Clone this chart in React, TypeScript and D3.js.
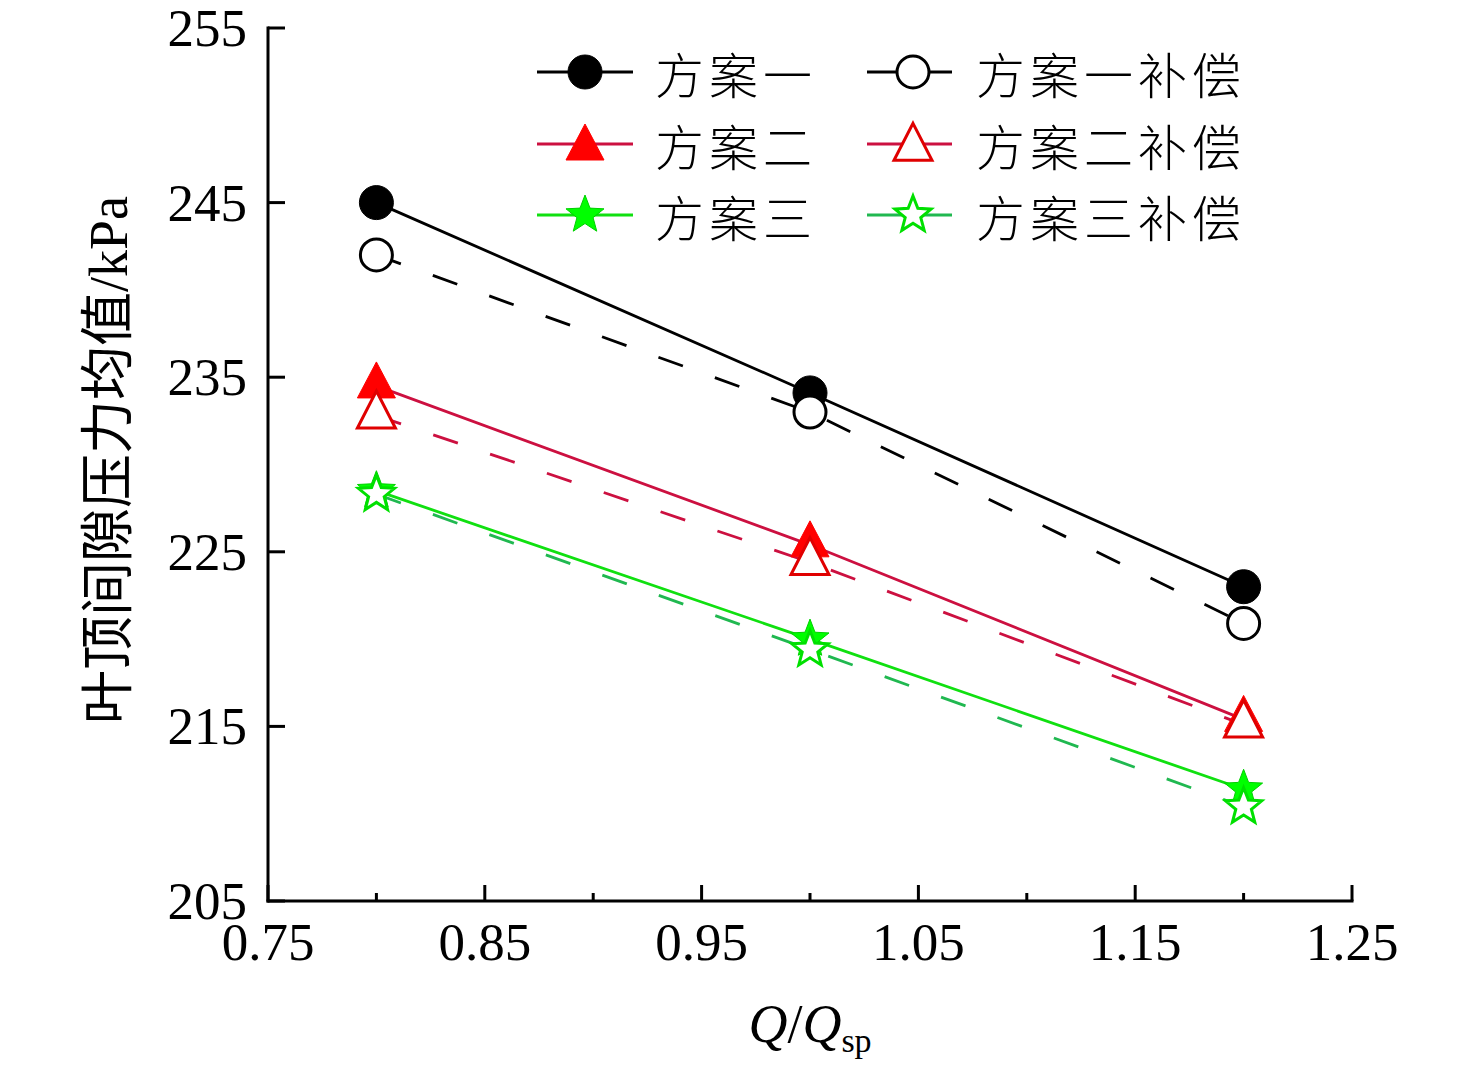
import React from "react";
import * as d3 from "d3";

const flowRatios = [0.8, 1.0, 1.2];
const plan1 = [245, 234.1, 223];
const plan1Comp = [242, 233, 220.9];
const plan2 = [234.5, 225.4, 215.4];
const plan2Comp = [232.8, 224.4, 215.1];
const plan3 = [228.5, 220.0, 211.4];
const plan3Comp = [228.3, 219.4, 210.4];

const seriesNames = ["方案一", "方案一补偿", "方案二", "方案二补偿", "方案三", "方案三补偿"];
const xTicks = [0.75, 0.85, 0.95, 1.05, 1.15, 1.25];
const xMinorTicks = [0.8, 0.9, 1.0, 1.1, 1.2];
const yTicks = [205, 215, 225, 235, 245, 255];
const yLabel = "叶顶间隙压力均值/kPa";

const W = 1476;
const H = 1068;
const x = d3.scaleLinear().domain([0.75, 1.25]).range([268, 1352]);
const y = d3.scaleLinear().domain([205, 255]).range([901, 28]);

type Marker = "circle" | "triangle" | "star";
interface Series {
  name: string;
  values: number[];
  color: string;
  dashed: boolean;
  marker: Marker;
  filled: boolean;
  fill: string;
  mstroke: string;
}

const series: Series[] = [
  { name: seriesNames[0], values: plan1, color: "#000000", dashed: false, marker: "circle", filled: true, fill: "#000000", mstroke: "#000000" },
  { name: seriesNames[1], values: plan1Comp, color: "#000000", dashed: true, marker: "circle", filled: false, fill: "#ffffff", mstroke: "#000000" },
  { name: seriesNames[2], values: plan2, color: "#cc1040", dashed: false, marker: "triangle", filled: true, fill: "#ff0000", mstroke: "#ff0000" },
  { name: seriesNames[3], values: plan2Comp, color: "#cc1040", dashed: true, marker: "triangle", filled: false, fill: "#ffffff", mstroke: "#e00000" },
  { name: seriesNames[4], values: plan3, color: "#10e010", dashed: false, marker: "star", filled: true, fill: "#00ff00", mstroke: "#00d000" },
  { name: seriesNames[5], values: plan3Comp, color: "#20b850", dashed: true, marker: "star", filled: false, fill: "#ffffff", mstroke: "#00e000" },
];

function starPath(R: number, r: number): string {
  const pts: string[] = [];
  for (let i = 0; i < 10; i++) {
    const a = -Math.PI / 2 + (i * Math.PI) / 5;
    const rad = i % 2 === 0 ? R : r;
    pts.push(`${(rad * Math.cos(a)).toFixed(2)},${(rad * Math.sin(a)).toFixed(2)}`);
  }
  return "M" + pts.join("L") + "Z";
}

function trianglePath(w: number, h: number): string {
  return `M0,${(-2 * h) / 3}L${w / 2},${h / 3}L${-w / 2},${h / 3}Z`;
}

function MarkerShape({ s, cx, cy }: { s: Series; cx: number; cy: number }) {
  const sw = s.filled ? 1 : 3;
  if (s.marker === "circle") {
    return <circle cx={cx} cy={cy} r={s.filled ? 17 : 16} fill={s.fill} stroke={s.mstroke} strokeWidth={sw} />;
  }
  if (s.marker === "triangle") {
    return (
      <path
        transform={`translate(${cx},${cy})`}
        d={s.filled ? trianglePath(38, 36) : trianglePath(38, 37)}
        fill={s.fill}
        stroke={s.mstroke}
        strokeWidth={sw}
        strokeLinejoin="miter"
      />
    );
  }
  return (
    <path
      transform={`translate(${cx},${cy})`}
      d={s.filled ? starPath(20, 8.5) : starPath(19, 8.2)}
      fill={s.fill}
      stroke={s.mstroke}
      strokeWidth={s.filled ? 1 : 3}
      strokeLinejoin="miter"
    />
  );
}

export default function App() {
  const line = d3
    .line<number>()
    .x((_, i) => x(flowRatios[i]))
    .y((d) => y(d));

  const serif = "'Liberation Serif', 'Times New Roman', serif";
  const mixed = "'Liberation Serif', 'Noto Sans CJK SC', serif";
  const cjk = "'Noto Sans CJK SC', sans-serif";

  const legendRows = [72, 144, 215];
  const legendCols = [
    { lx1: 537, lx2: 633, mx: 585, tx: 655 },
    { lx1: 867, lx2: 952, mx: 913, tx: 976 },
  ];

  return (
    <svg
      width={W}
      height={H}
      viewBox={`0 0 ${W} ${H}`}
      style={{ position: "absolute", left: 0, top: 0, background: "#ffffff" }}
    >
      <rect x={0} y={0} width={W} height={H} fill="#ffffff" />

      {series.map((s) => (
        <path
          key={"l" + s.name}
          d={line(s.values) || ""}
          fill="none"
          stroke={s.color}
          strokeWidth={2.8}
          strokeDasharray={s.dashed ? "26,34" : undefined}
        />
      ))}
      {[0, 2, 4, 1, 3, 5].map((k) => {
        const s = series[k];
        return s.values.map((v, i) => (
          <MarkerShape key={s.name + i} s={s} cx={x(flowRatios[i])} cy={y(v)} />
        ));
      })}

      <line x1={x(0.75)} x2={x(0.75)} y1={y(255) - 1.5} y2={y(205) + 1.5} stroke="#000" strokeWidth={3} />
      <line x1={x(0.75) - 1.5} x2={x(1.25) + 1.5} y1={y(205)} y2={y(205)} stroke="#000" strokeWidth={3} />
      {yTicks.map((t) => (
        <g key={"yt" + t}>
          <line x1={x(0.75)} x2={x(0.75) + 17} y1={y(t)} y2={y(t)} stroke="#000" strokeWidth={3} />
          <text
            x={247}
            y={y(t)}
            textAnchor="end"
            dominantBaseline="central"
            fontFamily={serif}
            fontSize={53}
            fill="#000"
          >
            {t}
          </text>
        </g>
      ))}
      {xTicks.map((t) => (
        <g key={"xt" + t}>
          <line x1={x(t)} x2={x(t)} y1={y(205)} y2={y(205) - 16} stroke="#000" strokeWidth={3} />
          <text x={x(t)} y={960} textAnchor="middle" fontFamily={serif} fontSize={53} fill="#000">
            {t.toFixed(2)}
          </text>
        </g>
      ))}
      {xMinorTicks.map((t) => (
        <line key={"xm" + t} x1={x(t)} x2={x(t)} y1={y(205)} y2={y(205) - 8} stroke="#000" strokeWidth={3} />
      ))}

      <text
        transform={`translate(127,460) rotate(-90)`}
        textAnchor="middle"
        fontFamily={mixed}
        fontSize={54}
        fill="#000"
      >
        {yLabel}
      </text>
      <text x={810} y={1042} textAnchor="middle" fontFamily={serif} fontSize={54} fill="#000">
        <tspan fontStyle="italic">Q</tspan>
        <tspan>/</tspan>
        <tspan fontStyle="italic">Q</tspan>
        <tspan fontSize={34} dy={10}>sp</tspan>
      </text>

      {series.map((s, k) => {
        const row = legendRows[Math.floor(k / 2)];
        const col = legendCols[k % 2];
        return (
          <g key={"lg" + s.name}>
            <line x1={col.lx1} x2={col.lx2} y1={row} y2={row} stroke={s.color} strokeWidth={2.8} />
            <MarkerShape s={s} cx={col.mx} cy={row + (s.marker === "triangle" ? 4 : 0)} />
            <text
              x={col.tx}
              y={row}
              dominantBaseline="central"
              fontFamily={cjk}
              fontSize={49}
              letterSpacing={5}
              fontWeight={300}
              fill="#000"
            >
              {s.name}
            </text>
          </g>
        );
      })}
    </svg>
  );
}
